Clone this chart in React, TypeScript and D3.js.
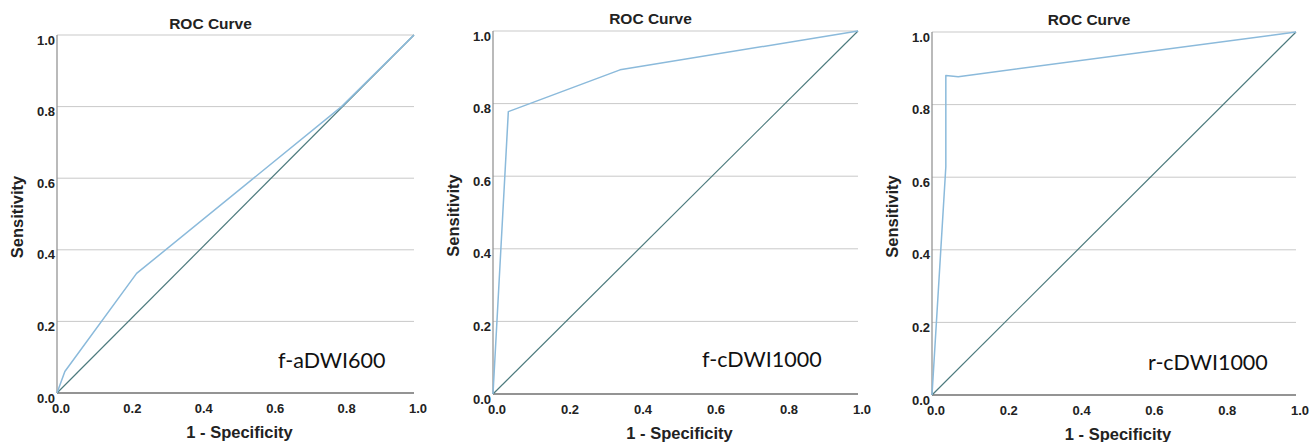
import React from 'react';
import * as d3 from 'd3';

// ROC points: [1 - specificity, sensitivity]
const aDWI600Fpr = [0, 0.022, 0.223, 0.797, 1];
const aDWI600Tpr = [0, 0.06, 0.334, 0.8, 1];
const cDWI1000Fpr = [0, 0.042, 0.348, 1];
const cDWI1000Tpr = [0, 0.778, 0.893, 1];
const rDWI1000Fpr = [0, 0.038, 0.038, 0.072, 1];
const rDWI1000Tpr = [0, 0.629, 0.88, 0.877, 1];

const panelLabels = ['f-aDWI600', 'f-cDWI1000', 'r-cDWI1000'];
const tickValues = [0, 0.2, 0.4, 0.6, 0.8, 1.0];
const gridValues = [0.2, 0.4, 0.6, 0.8, 1.0];

const series = [
  { fpr: aDWI600Fpr, tpr: aDWI600Tpr },
  { fpr: cDWI1000Fpr, tpr: cDWI1000Tpr },
  { fpr: rDWI1000Fpr, tpr: rDWI1000Tpr },
];

// plot boxes for each panel (left, right, top, bottom)
const layout = [
  { left: 57, right: 414, top: 35, bottom: 393, titleY: 29, labelY: 368, labelX: 278 },
  { left: 493, right: 858, top: 31, bottom: 394, titleY: 24, labelY: 367, labelX: 702 },
  { left: 932, right: 1296, top: 32, bottom: 395, titleY: 25, labelY: 370, labelX: 1148 },
];

const curveColor = '#8bbadb';
const diagColor = '#4c7a7d';
const gridColor = '#c9c9c9';
const font = '"Liberation Sans", Arial, sans-serif';

const Panel = ({ idx }: { idx: number }) => {
  const box = layout[idx];
  const s = series[idx];
  const x = d3.scaleLinear().domain([0, 1]).range([box.left, box.right]);
  const y = d3.scaleLinear().domain([0, 1]).range([box.bottom, box.top]);

  const pts: [number, number][] = s.fpr.map((f, i) => [f, s.tpr[i]]);
  const line = d3
    .line<[number, number]>()
    .x((d) => x(d[0]))
    .y((d) => y(d[1]));

  const midX = (box.left + box.right) / 2;
  const midY = (box.top + box.bottom) / 2;

  return (
    <g>
      {/* gridlines */}
      {gridValues.map((v) => (
        <line key={v} x1={x(0)} x2={x(1)} y1={y(v)} y2={y(v)} stroke={gridColor} strokeWidth={1} />
      ))}
      {/* axes */}
      <line x1={x(0)} x2={x(0)} y1={y(0)} y2={y(1)} stroke="#8c8c8c" strokeWidth={1.2} />
      <line x1={x(0)} x2={x(1)} y1={y(0)} y2={y(0)} stroke="#707070" strokeWidth={1.4} />

      {/* reference diagonal */}
      <path d={line([[0, 0], [1, 1]]) || ''} fill="none" stroke={diagColor} strokeWidth={1.2} />
      {/* ROC curve */}
      <path d={line(pts) || ''} fill="none" stroke={curveColor} strokeWidth={1.5} strokeLinejoin="round" />

      {/* tick labels */}
      {tickValues.map((v) => (
        <text
          key={'y' + v}
          x={x(0) - 2}
          y={y(v) + 5}
          dy="0.35em"
          textAnchor="end"
          fontFamily={font}
          fontWeight="bold"
          fontSize={13}
          fill="#222"
        >
          {d3.format('.1f')(v)}
        </text>
      ))}
      {tickValues.map((v) => (
        <text
          key={'x' + v}
          x={x(v) + 4}
          y={box.bottom + 15}
          dy="0.35em"
          textAnchor="middle"
          fontFamily={font}
          fontWeight="bold"
          fontSize={13}
          fill="#222"
        >
          {d3.format('.1f')(v)}
        </text>
      ))}

      {/* titles */}
      <text x={midX - 25} y={box.titleY} textAnchor="middle" fontFamily={font} fontWeight="bold" fontSize={15.5} fill="#222">
        ROC Curve
      </text>
      <text x={midX + 4} y={box.bottom + 45} textAnchor="middle" fontFamily={font} fontWeight="bold" fontSize={16.5} fill="#222">
        1 - Specificity
      </text>
      <text
        transform={`translate(${box.left - 40},${midY + 3}) rotate(-90)`}
        dy="0.35em"
        textAnchor="middle"
        fontFamily={font}
        fontWeight="bold"
        fontSize={16.5}
        fill="#222"
      >
        Sensitivity
      </text>

      {/* panel annotation */}
      <text x={box.labelX} y={box.labelY} fontFamily="Lato, 'Open Sans', sans-serif" fontSize={21.5} fill="#111">
        {panelLabels[idx]}
      </text>
    </g>
  );
};

const App = () => {
  return (
    <svg
      width={1315}
      height={442}
      style={{ position: 'absolute', left: 0, top: 0, background: '#fff' }}
    >
      <rect width={1315} height={442} fill="#fff" />
      {series.map((_, i) => (
        <Panel key={i} idx={i} />
      ))}
    </svg>
  );
};

export default App;
